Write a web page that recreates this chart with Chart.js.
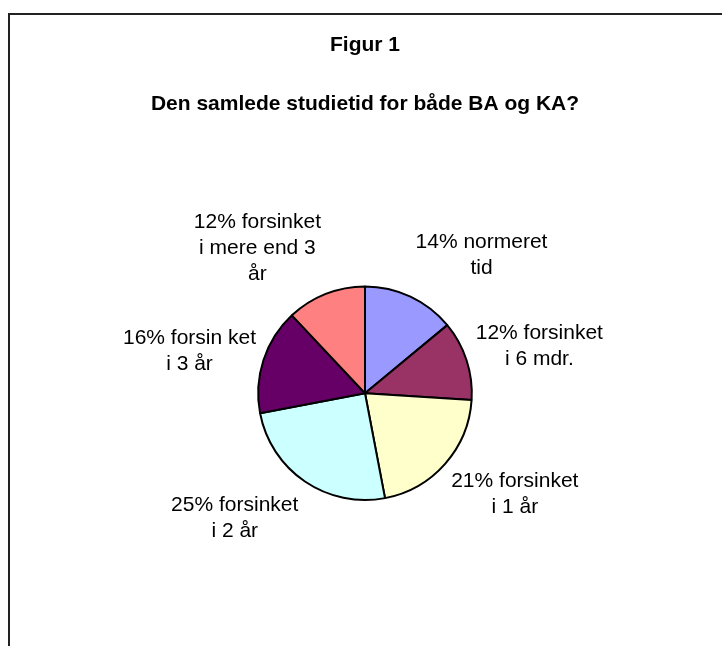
<!DOCTYPE html>
<html>
<head>
<meta charset="utf-8">
<script src="https://cdn.jsdelivr.net/npm/chart.js@4/dist/chart.umd.min.js"></script>
<style>
  body { margin: 0; background: #fff; }
  .wrap { position: relative; width: 722px; height: 646px; overflow: hidden; }
  .frame { position: absolute; left: 8px; top: 13px; width: 800px; height: 800px; border: 2px solid #222; }
  canvas { position: absolute; left: 0; top: 0; }
</style>
</head>
<body>
<div class="wrap">
  <div class="frame"></div>
  <canvas id="pie" width="722" height="646"></canvas>
</div>
<script>
// data
const categories = [
  ['normeret', 'tid'],
  ['forsinket', 'i 6 mdr.'],
  ['forsinket', 'i 1 år'],
  ['forsinket', 'i 2 år'],
  ['forsin ket', 'i 3 år'],
  ['forsinket', 'i mere end 3', 'år']
]
const values = [14, 12, 21, 25, 16, 12]
const sliceColors = ['#9999FF', '#993366', '#FFFFCC', '#CCFFFF', '#660066', '#FF8080']

const fontFamily = "'Liberation Sans', Arial, sans-serif"

// labels outside the slices, like excel best fit
const outsideLabels = {
  id: 'outsideLabels',
  afterDatasetsDraw(chart, args, opts) {
    const ctx = chart.ctx
    const arcs = chart.getDatasetMeta(0).data
    ctx.save()
    ctx.font = opts.size + 'px ' + fontFamily
    ctx.fillStyle = '#000'
    ctx.textAlign = 'center'
    ctx.textBaseline = 'middle'
    arcs.forEach((arc, i) => {
      const p = arc.getProps(['x', 'y', 'startAngle', 'endAngle', 'outerRadius'], true)
      const mid = (p.startAngle + p.endAngle) / 2 + opts.shift[i] * Math.PI / 180
      const d = p.outerRadius * opts.dist
      const cx = p.x + Math.cos(mid) * d
      const cy = p.y + Math.sin(mid) * d
      const lines = categories[i].slice()
      lines[0] = values[i] + '% ' + lines[0]
      const top = cy - (lines.length - 1) * opts.lineHeight / 2
      lines.forEach((t, j) => ctx.fillText(t, cx, top + j * opts.lineHeight))
    })
    ctx.restore()
  }
}

new Chart(document.getElementById('pie'), {
  type: 'pie',
  data: {
    labels: categories.map(c => c.join(' ')),
    datasets: [{
      data: values,
      backgroundColor: sliceColors,
      borderColor: '#000',
      borderWidth: 2,
      hoverBorderWidth: 2,
      offset: 0,
      hoverOffset: 0
    }]
  },
  plugins: [outsideLabels],
  options: {
    responsive: false,
    animation: false,
    events: [],
    layout: { padding: { top: 0, bottom: 145, left: 8, right: 0 } },
    plugins: {
      legend: { display: false },
      tooltip: { enabled: false },
      title: {
        display: true,
        text: 'Figur 1',
        color: '#000',
        font: { family: fontFamily, size: 21, weight: 'bold' },
        padding: { top: 33, bottom: 0 }
      },
      subtitle: {
        display: true,
        text: 'Den samlede studietid for både BA og KA?',
        color: '#000',
        font: { family: fontFamily, size: 21, weight: 'bold' },
        padding: { top: 33, bottom: 169 }
      },
      outsideLabels: {
        size: 21,
        lineHeight: 26,
        dist: 1.69,
        shift: [15, 3, -7.5, 12, -4.5, -15]
      }
    }
  }
})
</script>
</body>
</html>
